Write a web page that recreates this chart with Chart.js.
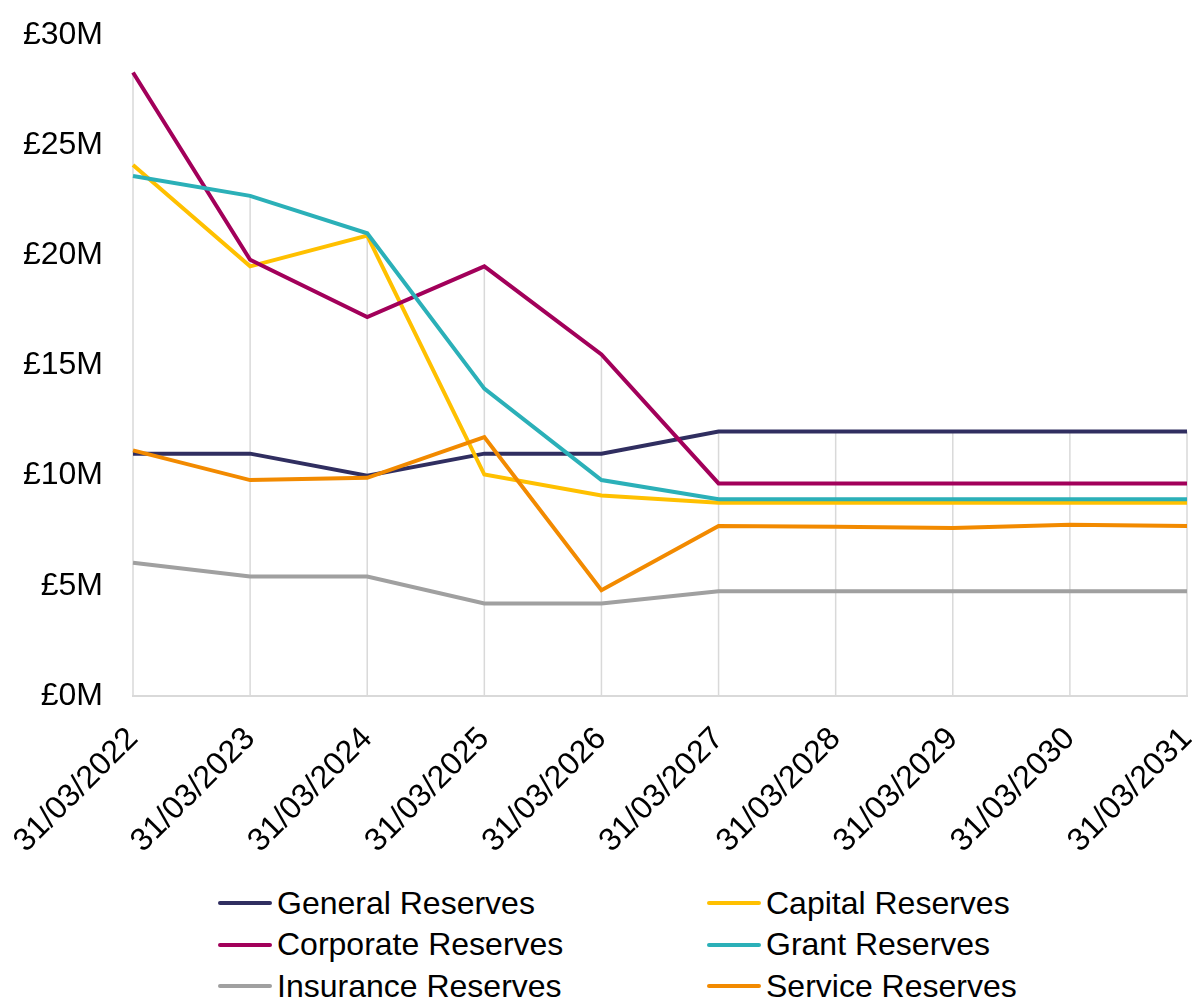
<!DOCTYPE html>
<html>
<head>
<meta charset="utf-8">
<script src="https://cdn.jsdelivr.net/npm/chart.js@4"></script>
<style>
  html, body { margin: 0; padding: 0; background: #fff; overflow: hidden; }
  body { width: 1192px; height: 1001px; position: relative; font-family: "Liberation Sans", Arial, sans-serif; }
  #wrap { position: absolute; left: 0; top: 0; width: 1192px; height: 880px; }
  #legend { position: absolute; left: 0; top: 882px; width: 1192px; }
  .item { position: absolute; height: 42px; display: flex; align-items: center; font-size: 32px; color: #000; white-space: nowrap; }
  .item .swatch { width: 54px; height: 4px; border-radius: 2px; margin-right: 5px; }
</style>
</head>
<body>
<div id="wrap"><canvas id="reserves" width="1192" height="880"></canvas></div>
<div id="legend"></div>
<script>
const categories = ['31/03/2022', '31/03/2023', '31/03/2024', '31/03/2025', '31/03/2026',
                    '31/03/2027', '31/03/2028', '31/03/2029', '31/03/2030', '31/03/2031'];

// reserve balances, £M at year end
const generalReserves   = [11, 11, 10, 11, 11, 12, 12, 12, 12, 12];
const capitalReserves   = [24.1, 19.5, 20.9, 10.05, 9.1, 8.77, 8.77, 8.77, 8.77, 8.77];
const corporateReserves = [28.3, 19.8, 17.2, 19.5, 15.5, 9.65, 9.65, 9.65, 9.65, 9.65];
const grantReserves     = [23.6, 22.7, 21.0, 13.95, 9.8, 8.93, 8.93, 8.93, 8.93, 8.93];
const insuranceReserves = [6.05, 5.42, 5.42, 4.2, 4.2, 4.75, 4.75, 4.75, 4.75, 4.75];
const serviceReserves   = [11.15, 9.8, 9.9, 11.75, 4.8, 7.72, 7.68, 7.62, 7.77, 7.71];

const yTicks = [0, 5, 10, 15, 20, 25, 30];

const seriesNames  = ['General Reserves', 'Capital Reserves', 'Corporate Reserves',
                      'Grant Reserves', 'Insurance Reserves', 'Service Reserves'];
const seriesData   = [generalReserves, capitalReserves, corporateReserves,
                      grantReserves, insuranceReserves, serviceReserves];
const seriesColors = ['#302e60', '#ffc000', '#a2005a', '#2bb0b8', '#a0a0a0', '#f28a00'];

const FONT = '"Liberation Sans", Arial, sans-serif';

// vertical drop lines from the highest series down to the axis
const dropLines = {
  id: 'dropLines',
  beforeDatasetsDraw(chart) {
    const {ctx, scales: {x, y}} = chart;
    ctx.save();
    ctx.strokeStyle = '#d9d9d9';
    ctx.lineWidth = 1.5;
    categories.forEach((c, i) => {
      const top = Math.max(...seriesData.map(d => d[i]));
      const px = x.getPixelForValue(i);
      ctx.beginPath();
      ctx.moveTo(px, y.getPixelForValue(top));
      ctx.lineTo(px, y.getPixelForValue(0));
      ctx.stroke();
    });
    ctx.restore();
  }
};

const ctx = document.getElementById('reserves').getContext('2d');
const chart = new Chart(ctx, {
  type: 'line',
  data: {
    labels: categories,
    datasets: seriesNames.map((name, i) => ({
      label: name,
      data: seriesData[i],
      borderColor: seriesColors[i],
      backgroundColor: seriesColors[i],
      borderWidth: 4,
      pointRadius: 0,
      tension: 0,
      fill: false,
      order: seriesNames.length - 1 - i
    }))
  },
  options: {
    responsive: false,
    animation: false,
    layout: { padding: { top: 35, right: 5, bottom: 0, left: 0 } },
    plugins: {
      legend: { display: false },
      tooltip: { enabled: false }
    },
    scales: {
      x: {
        grid: { display: false },
        border: { display: true, color: '#d9d9d9', width: 2 },
        ticks: {
          autoSkip: false,
          minRotation: 45,
          maxRotation: 45,
          padding: 16,
          color: '#000',
          font: { family: FONT, size: 32 }
        },
        afterFit(scale) {
          scale.height = 880 - 696;
          scale.paddingLeft = 0;
          scale.paddingRight = 0;
        }
      },
      y: {
        min: 0,
        max: 30,
        afterBuildTicks(scale) {
          scale.ticks = yTicks.map(v => ({ value: v }));
        },
        grid: { display: false, drawTicks: false },
        border: { display: false },
        ticks: {
          padding: 30,
          color: '#000',
          font: { family: FONT, size: 32 },
          callback: v => '£' + v + 'M'
        },
        afterFit(scale) {
          scale.width = 133;
          scale.paddingTop = 0;
          scale.paddingBottom = 0;
        }
      }
    }
  },
  plugins: [dropLines]
});

// two-column legend under the chart
const legend = document.getElementById('legend');
seriesNames.forEach((name, i) => {
  const item = document.createElement('div');
  item.className = 'item';
  item.style.left = (i % 2 === 0 ? 218 : 707) + 'px';
  item.style.top = (Math.floor(i / 2) * 41.7) + 'px';
  const sw = document.createElement('span');
  sw.className = 'swatch';
  sw.style.background = seriesColors[i];
  const label = document.createElement('span');
  label.textContent = name;
  item.appendChild(sw);
  item.appendChild(label);
  legend.appendChild(item);
});
</script>
</body>
</html>
